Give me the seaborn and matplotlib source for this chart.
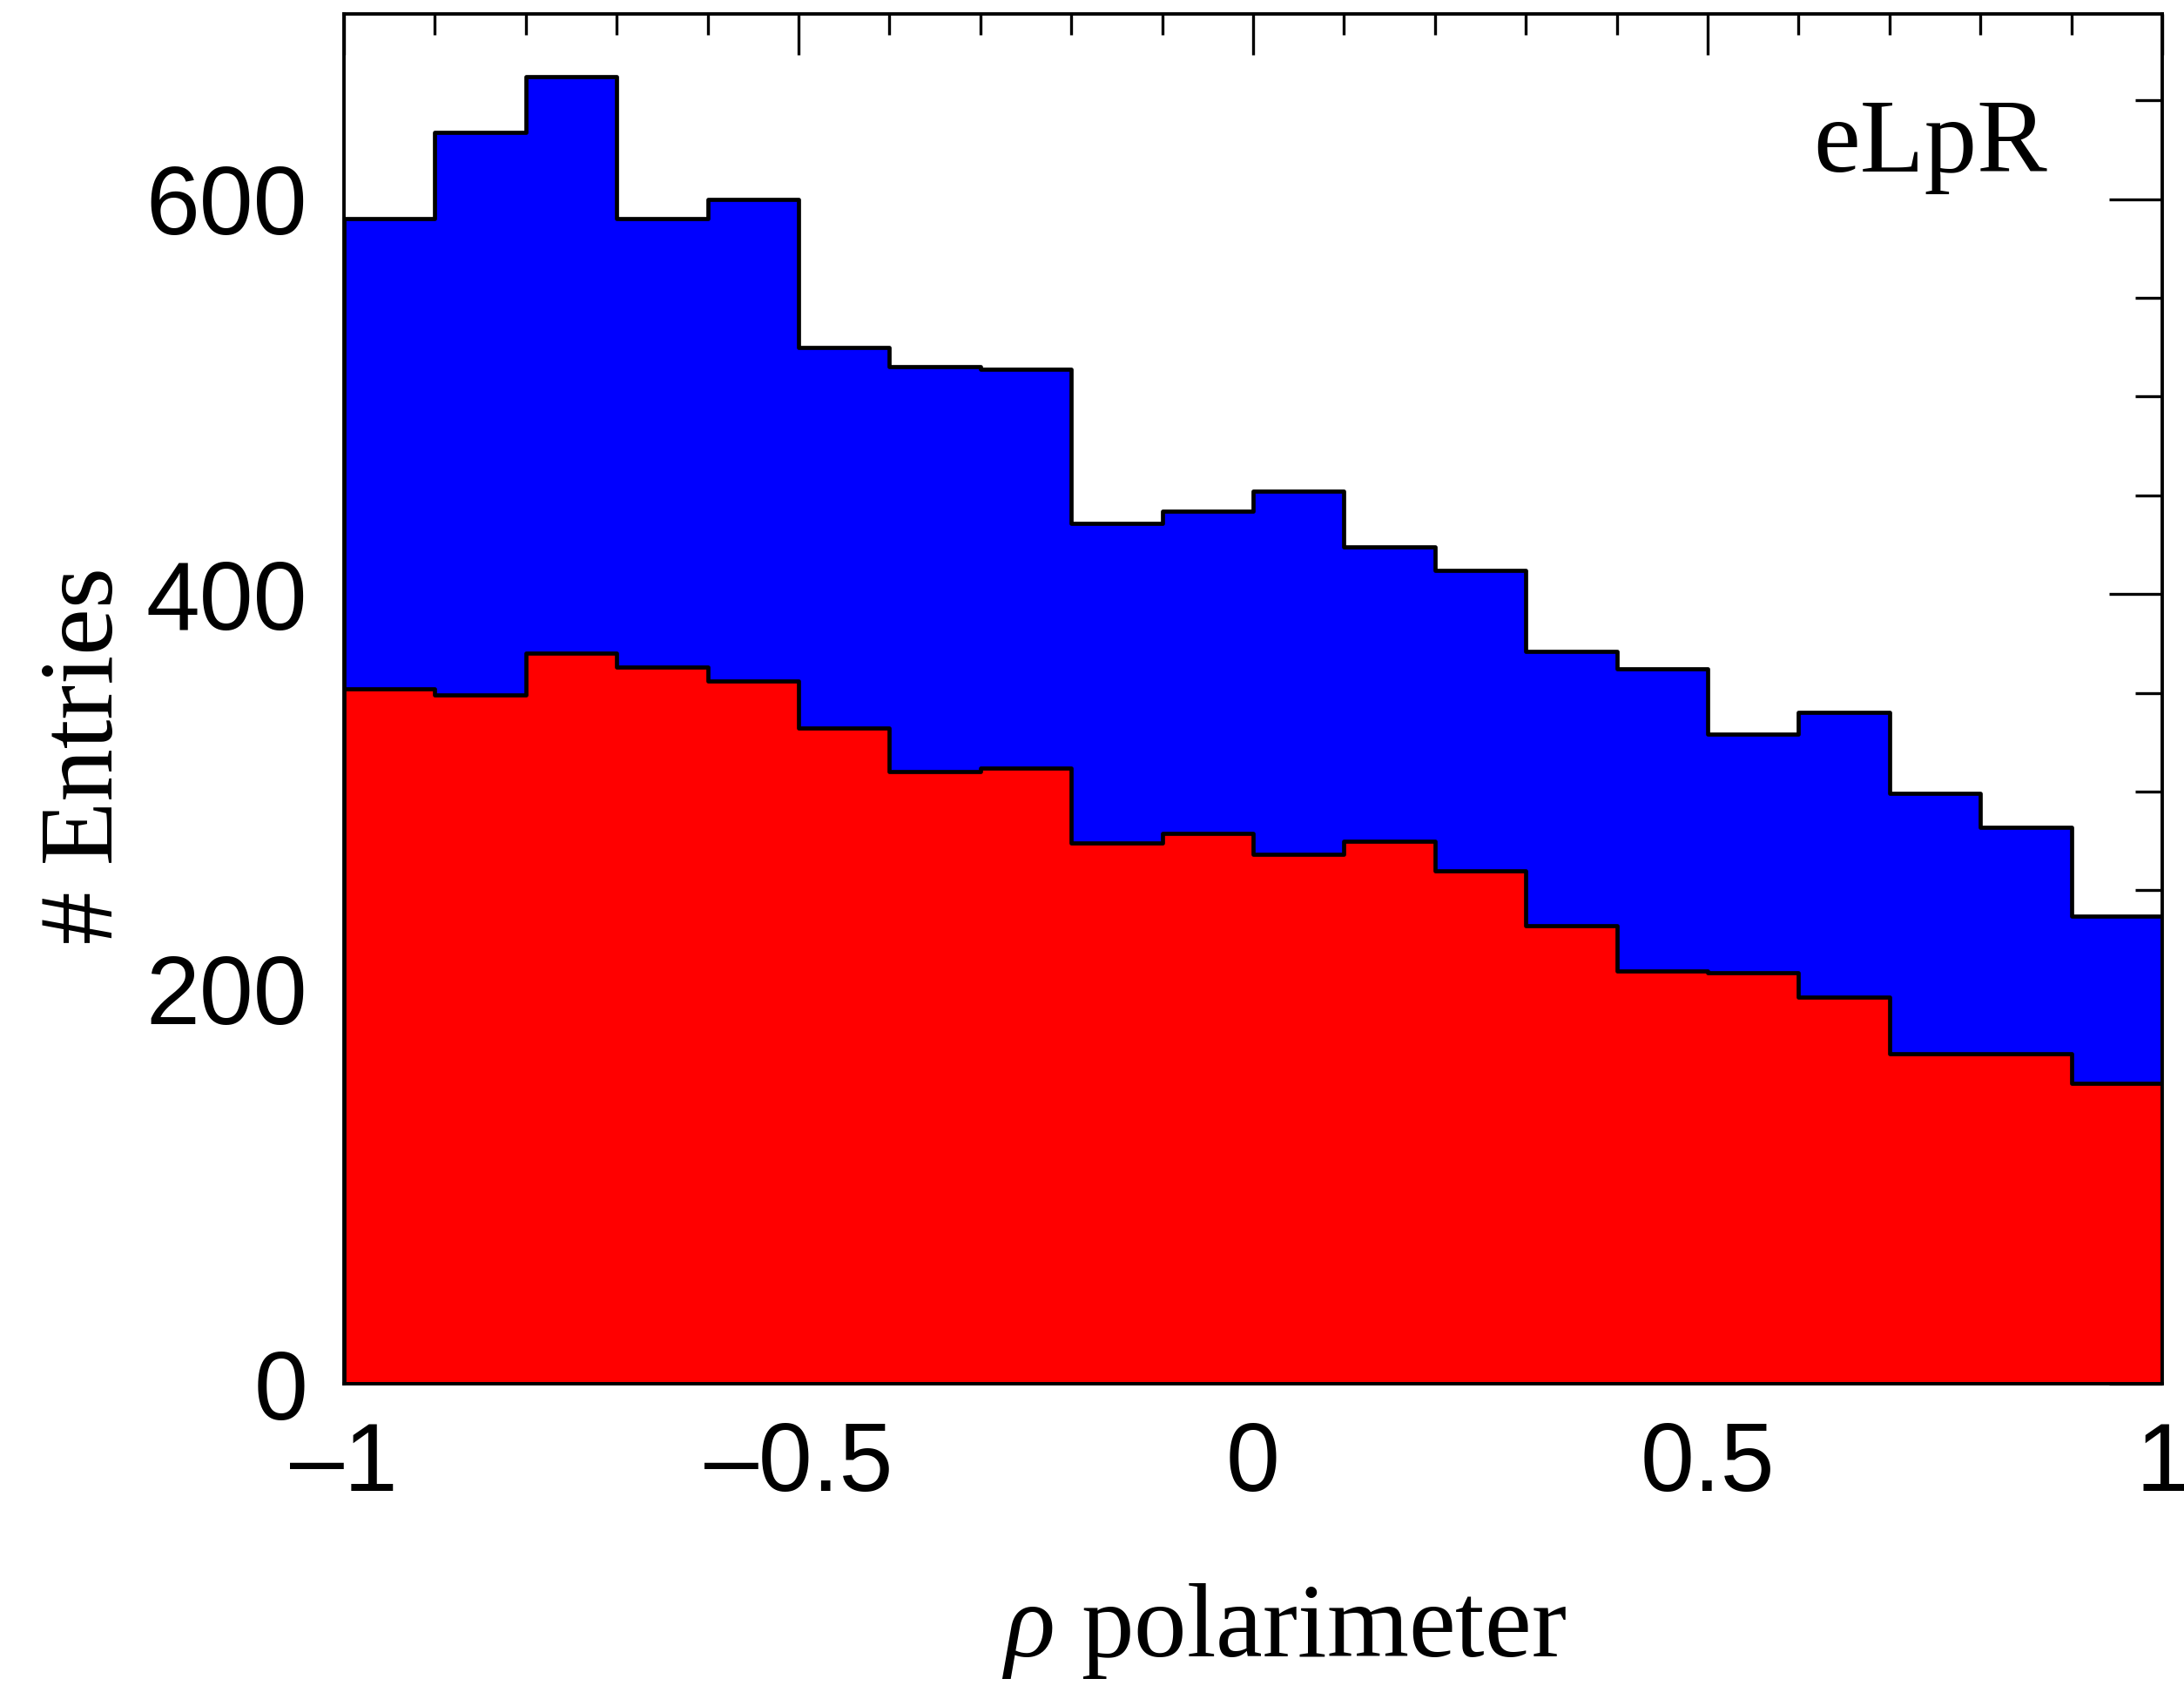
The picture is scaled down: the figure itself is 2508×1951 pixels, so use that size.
import numpy as np
import pandas as pd
import matplotlib
matplotlib.use("Agg")
import matplotlib.pyplot as plt
from matplotlib.ticker import MultipleLocator, FixedLocator
import seaborn as sns

# bin edges of the rho polarimeter histogram
edges = [round(-1.0 + 0.1 * i, 2) for i in range(21)]

# stacked total (blue outline) and the red component
total = [590, 634, 662, 590, 600, 525, 515, 514, 436, 442,
         452, 424, 412, 371, 362, 329, 340, 299, 282, 237]
red = [352, 349, 370, 363, 356, 332, 310, 312, 274, 279,
       268, 275, 260, 232, 209, 208, 196, 167, 167, 152]

xtick_vals = [-1, -0.5, 0, 0.5, 1]
xtick_labels = ["\u20131", "\u20130.5", "0", "0.5", "1"]
ytick_vals = [0, 200, 400, 600]
ytick_labels = ["0", "200", "400", "600"]

centers = [(a + b) / 2 for a, b in zip(edges[:-1], edges[1:])]
df = pd.DataFrame({"x": centers, "total": total, "red": red})

sns.set_theme(style="white")
plt.rcParams['font.family'] = ['Liberation Sans', 'DejaVu Sans']
plt.rcParams['text.color'] = 'black'
plt.rcParams['axes.labelcolor'] = 'black'
plt.rcParams['mathtext.fontset'] = 'custom'
plt.rcParams['mathtext.it'] = 'Liberation Serif:italic'
plt.rcParams['mathtext.rm'] = 'Liberation Serif'

fig = plt.figure(figsize=(25.08, 19.51), dpi=100)
ax = fig.add_axes([0.1575, 0.1855, 0.8325, 0.8065])

# blue = total, red drawn on top of it
sns.histplot(data=df, x="x", weights="total", bins=edges, element="step",
             fill=True, color="#0000ff", alpha=1, edgecolor="black",
             linewidth=3.4, ax=ax)
sns.histplot(data=df, x="x", weights="red", bins=edges, element="step",
             fill=True, color="#ff0000", alpha=1, edgecolor="black",
             linewidth=3.4, ax=ax)

ax.set_xlim(-1, 1)
ax.set_ylim(0, 694)

ax.xaxis.set_major_locator(FixedLocator(xtick_vals))
ax.xaxis.set_minor_locator(MultipleLocator(0.1))
ax.set_xticklabels(xtick_labels)
ax.yaxis.set_major_locator(FixedLocator(ytick_vals))
ax.yaxis.set_minor_locator(MultipleLocator(50))
ax.set_yticklabels(ytick_labels)

ax.tick_params(axis="both", which="both", direction="in", top=True, right=True,
               colors="black", width=2.4, labelsize=80)
ax.tick_params(axis="x", which="major", length=34, pad=30)
ax.tick_params(axis="x", which="minor", length=17)
ax.tick_params(axis="y", which="major", length=44, pad=30)
ax.tick_params(axis="y", which="minor", length=22)

for s in ax.spines.values():
    s.set_color("black")
    s.set_linewidth(2.8)
    s.set_zorder(5)

ax.set_xlabel(r"$\rho$ polarimeter", fontsize=87, family="Liberation Serif",
              color="black")
ax.xaxis.set_label_coords(0.517, -0.144)
ax.set_ylabel("# Entries", fontsize=87, family="Liberation Serif",
              color="black")
ax.yaxis.set_label_coords(-0.115, 0.4586)

ax.text(0.937, 0.885, "eLpR", transform=ax.transAxes, ha="right",
        va="baseline", fontsize=87, family="Liberation Serif", color="black")

plt.savefig("out.png", dpi=100)
